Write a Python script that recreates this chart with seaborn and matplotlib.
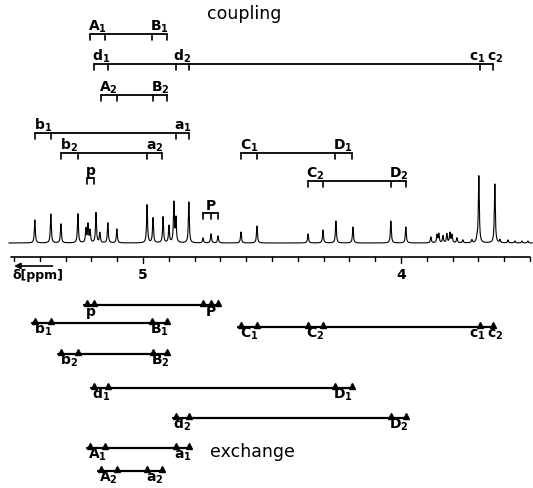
import numpy as np
import pandas as pd
import seaborn as sns
import matplotlib.pyplot as plt

sns.set_theme(style="white")
plt.rcParams['font.family'] = ['DejaVu Sans']
plt.rcParams['mathtext.default'] = 'regular'
plt.rcParams['text.color'] = 'black'

# spectrum lines: position (ppm) and height (px above baseline)
peak_ppm = [5.419, 5.357, 5.318, 5.252, 5.221, 5.213, 5.205, 5.182, 5.167, 5.136, 5.101,
            4.984, 4.961, 4.922, 4.899, 4.880, 4.872, 4.822, 4.767, 4.736, 4.709,
            4.620, 4.558, 4.360, 4.302, 4.252, 4.186, 4.039, 3.981,
            3.884, 3.860, 3.853, 3.837, 3.822, 3.810, 3.802, 3.783, 3.760, 3.725, 3.705,
            3.698, 3.636, 3.616, 3.585, 3.558, 3.531, 3.508]
peak_height = [23, 29, 19, 29, 14, 18, 12, 30, 10, 20, 14,
               38, 25, 26, 17, 40, 24, 41, 5, 9, 7,
               11, 17, 9, 13, 22, 16, 22, 16,
               6, 8, 9, 7, 9, 10, 8, 5, 3, 3, 4,
               67, 59, 3, 3, 2, 2, 2]

# multiplet lines (ppm)
mult_names = ['A1', 'B1', 'A2', 'B2', 'a1', 'a2', 'b1', 'b2', 'C1', 'C2', 'c1', 'c2',
              'D1', 'D2', 'd1', 'd2', 'p', 'P']
mult_lines = [[5.205, 5.147], [4.965, 4.907], [5.163, 5.101], [4.961, 4.907],
              [4.872, 4.822], [4.984, 4.926], [5.419, 5.357], [5.318, 5.252],
              [4.620, 4.558], [4.360, 4.302], [3.694], [3.643],
              [4.256, 4.190], [4.039, 3.981], [5.190, 5.136], [4.872, 4.822],
              [5.217, 5.190], [4.767, 4.736, 4.709]]

# coupling brackets and exchange pairs
coupling_groups = [['A1', 'B1'], ['d1', 'd2', 'c1', 'c2'], ['A2', 'B2'], ['b1', 'a1'],
                   ['b2', 'a2'], ['C1', 'D1'], ['C2', 'D2'], ['p'], ['P']]
coupling_y = [34, 64, 95, 133, 153, 153, 181, 178, 213]
exchange_groups = [['p', 'P'], ['b1', 'B1'], ['C1', 'C2', 'c1', 'c2'], ['b2', 'B2'],
                   ['d1', 'D1'], ['d2', 'D2'], ['A1', 'a1'], ['A2', 'a2']]
exchange_y = [305, 323, 327, 354, 388, 418, 448, 471]

axis_ticks = np.round(np.arange(3.5, 5.51, 0.1), 1)
axis_labels = {5.0: '5', 4.0: '4'}

mult = dict(zip(mult_names, mult_lines))
# small nudge so that the close c1/c2 labels do not collide
nudge = {'c1': 0.009, 'c2': -0.009}


def label_text(name):
    if len(name) == 1:
        return name
    return f"{name[0]}$_{name[1]}$"


fig = plt.figure(figsize=(5.33, 4.88), dpi=100)
ax = fig.add_axes([0, 0, 1, 1])
ax.set_xlim(5.554, 3.488)
ax.set_ylim(488, 0)
ax.axis('off')

# spectrum
base_y = 243
x = np.linspace(5.52, 3.49, 8000)
w = 0.0022
sig = np.zeros_like(x)
for p0, h in zip(peak_ppm, peak_height):
    sig += h * w**2 / ((x - p0)**2 + w**2)
spec = pd.DataFrame({'ppm': x, 'y': base_y - sig})
sns.lineplot(data=spec, x='ppm', y='y', ax=ax, color='black', lw=0.8, sort=False)

# ppm axis
axis_y = 257
ax.plot([5.51, 3.50], [axis_y, axis_y], color='black', lw=1.2)
for t in axis_ticks:
    ln = 6 if t in axis_labels else 4
    ax.plot([t, t], [axis_y, axis_y + ln], color='black', lw=1)
    if t in axis_labels:
        ax.text(t, 279, axis_labels[t], ha='center', va='baseline', fontsize=10, fontweight='bold')
ax.annotate('', xy=(5.51, 266), xytext=(5.34, 266),
            arrowprops=dict(arrowstyle='-|>', color='black', lw=1.2, mutation_scale=9))
ax.text(5.505, 279, 'δ[ppm]', ha='left', va='baseline', fontsize=9, fontweight='bold')

# coupling brackets
for grp, yy in zip(coupling_groups, coupling_y):
    pos = [v for n in grp for v in mult[n]]
    ax.plot([max(pos), min(pos)], [yy, yy], color='black', lw=1.3)
    for v in pos:
        ax.plot([v, v], [yy, yy + 6], color='black', lw=1.2)
    for n in grp:
        c = np.mean(mult[n]) + nudge.get(n, 0)
        ax.text(c, yy - 3, label_text(n), ha='center', va='baseline',
                fontsize=10, fontweight='bold')

# exchange pairs
for grp, yy in zip(exchange_groups, exchange_y):
    pos = [v for n in grp for v in mult[n]]
    ax.plot([max(pos) + 0.012, min(pos) - 0.008], [yy, yy], color='black', lw=1.6)
    ax.plot(pos, [yy - 2] * len(pos), ls='none', marker='^', ms=4.5, color='black')
    for n in grp:
        c = np.mean(mult[n]) + nudge.get(n, 0)
        ax.text(c, yy + 11, label_text(n), ha='center', va='baseline',
                fontsize=10, fontweight='bold')

ax.text(4.75, 19, 'coupling', ha='left', va='baseline', fontsize=12.5)
ax.text(4.74, 457, 'exchange', ha='left', va='baseline', fontsize=12.5)

fig.savefig('out.png', dpi=100, facecolor='white')
